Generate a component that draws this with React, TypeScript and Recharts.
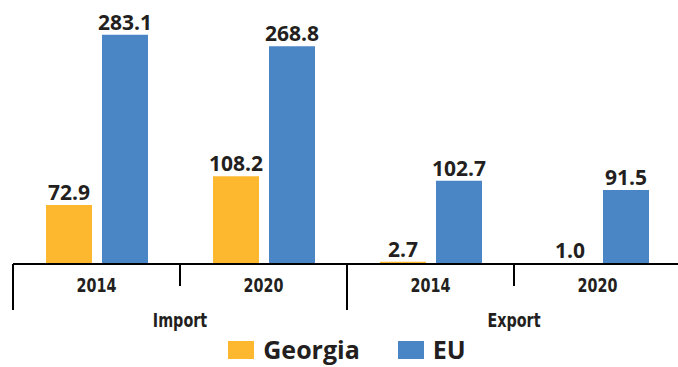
import React from "react";
import { Bar, BarChart, LabelList, Legend, XAxis, YAxis } from "recharts";

const groups = ["Import", "Import", "Export", "Export"];
const years = ["2014", "2020", "2014", "2020"];
const georgia = [72.9, 108.2, 2.7, 1.0];
const eu = [283.1, 268.8, 102.7, 91.5];

const data = years.map((year, i) => ({
  key: `${groups[i]}-${year}`,
  year,
  group: groups[i],
  georgia: georgia[i],
  eu: eu[i],
}));

const ORANGE = "#FDB82F";
const BLUE = "#4A86C6";
const INK = "#231F20";
const NARROW = "'Liberation Sans Narrow', 'DejaVu Sans Condensed', Arial, sans-serif";
const ROUND = "'Open Sans', 'Noto Sans', sans-serif";

// condensed bold label, squeezed horizontally like the original's Myriad Condensed
function NarrowText({ x, y, children }: any) {
  return (
    <text
      transform={`translate(${x},${y}) scale(0.84,1)`}
      textAnchor="middle"
      fill={INK}
      fontSize={19}
      fontWeight={700}
      fontFamily={NARROW}
    >
      {children}
    </text>
  );
}

function YearTick({ x, y, payload, index }: any) {
  const half = payload?.offset ?? 83.5;
  const left = x - half;
  const right = x + half;
  const isLong = (i: number) => i % 2 === 0;
  return (
    <g>
      <line x1={left} x2={left} y1={y} y2={y + (isLong(index) ? 46 : 22)} stroke="#000" strokeWidth={2} />
      {index === 3 && <line x1={right} x2={right} y1={y} y2={y + 46} stroke="#000" strokeWidth={2} />}
      <NarrowText x={x} y={y + 28}>{years[index]}</NarrowText>
    </g>
  );
}

function GroupTick({ x, y, payload }: any) {
  return <NarrowText x={x} y={y + 33}>{payload.value}</NarrowText>;
}

function LegendContent() {
  const items = [
    { name: "Georgia", color: ORANGE },
    { name: "EU", color: BLUE },
  ];
  return (
    <div style={{ display: "flex", justifyContent: "center", alignItems: "center", gap: 38, paddingTop: 1 }}>
      {items.map((it) => (
        <div key={it.name} style={{ display: "flex", alignItems: "center" }}>
          <span style={{ display: "inline-block", width: 26, height: 18, background: it.color, marginRight: 9 }} />
          <span style={{ fontFamily: ROUND, fontWeight: 700, fontSize: 25, color: INK, lineHeight: "29px" }}>
            {it.name}
          </span>
        </div>
      ))}
    </div>
  );
}

export default function App() {
  return (
    <div style={{ position: "absolute", left: 0, top: 0, width: 678, height: 367, overflow: "hidden", background: "#fff" }}>
      <BarChart
        width={681}
        height={367}
        data={data}
        margin={{ top: 21, right: 0, left: 13, bottom: 0 }}
        barSize={46}
        barGap={10}
      >
        <YAxis hide domain={[0, 300]} />
        <XAxis
          dataKey="key"
          height={30}
          interval={0}
          tickSize={0}
          tickMargin={0}
          tickLine={false}
          axisLine={{ stroke: "#000", strokeWidth: 2 }}
          tick={<YearTick />}
        />
        <XAxis
          xAxisId="group"
          dataKey="group"
          allowDuplicatedCategory={false}
          height={40}
          interval={0}
          tickSize={0}
          tickMargin={0}
          tickLine={false}
          axisLine={false}
          tick={<GroupTick />}
        />
        <Legend verticalAlign="bottom" height={33} content={<LegendContent />} />
        <Bar dataKey="georgia" name="Georgia" fill={ORANGE} isAnimationActive={false}>
          <LabelList
            dataKey="georgia"
            position="top"
            offset={5}
            formatter={(v: any) => Number(v).toFixed(1)}
            fill={INK}
            fontSize={21}
            fontWeight={700}
            fontFamily={ROUND}
          />
        </Bar>
        <Bar dataKey="eu" name="EU" fill={BLUE} isAnimationActive={false}>
          <LabelList
            dataKey="eu"
            position="top"
            offset={5}
            formatter={(v: any) => Number(v).toFixed(1)}
            fill={INK}
            fontSize={21}
            fontWeight={700}
            fontFamily={ROUND}
          />
        </Bar>
      </BarChart>
    </div>
  );
}
